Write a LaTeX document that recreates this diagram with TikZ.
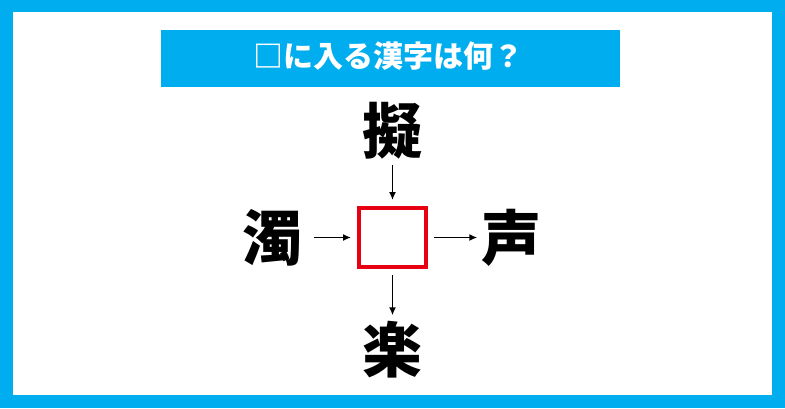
\documentclass[tikz,border=0pt]{standalone}
\usepackage{fontspec}
\setmainfont{Noto Sans CJK JP}
\usepackage{tikz}
\usetikzlibrary{positioning,arrows.meta}
\definecolor{quizblue}{HTML}{00AEEF}
\definecolor{quizred}{HTML}{E60012}
\tikzset{node distance=115pt, auto}
\tikzset{kanji/.style={font=\fontsize{60}{60}\selectfont\bfseries, minimum size=68pt, inner sep=0pt},
         hint/.style={-{Latex[length=8pt,width=7pt]}, line width=1.5pt}}

\begin{document}
\begin{tikzpicture}[x=1pt, y=-1pt]

           % frame and title
           \fill[quizblue] (0,0) rectangle (785,408);
           \fill[white] (13,12) rectangle (772,395);
           \fill[quizblue] (161,30) rectangle (620,87);
           \node[text=white, font=\fontsize{30}{30}\selectfont\bfseries] (title) at (388,56) {□に入る漢字は何？};

           \node (box) [draw=quizred, line width=4pt, minimum width=67pt, minimum height=59pt, outer sep=8pt] at (392.5,237.5) {};
           \node (up) [kanji, above of=box, node distance=107pt] {擬};
           \node (down) [kanji, below of=box, node distance=112pt] {楽};
           \node (left) [kanji, left of=box, node distance=120pt] {濁};
           \node (right) [kanji, right of=box, node distance=119pt] {声};

           \draw[hint] (up) to (box);
           \draw[hint, shorten <=7pt] (left) to (box);
           \draw[hint] (box) to (right);
           \draw[hint] (box) to (down);

         \end{tikzpicture}
\end{document}
